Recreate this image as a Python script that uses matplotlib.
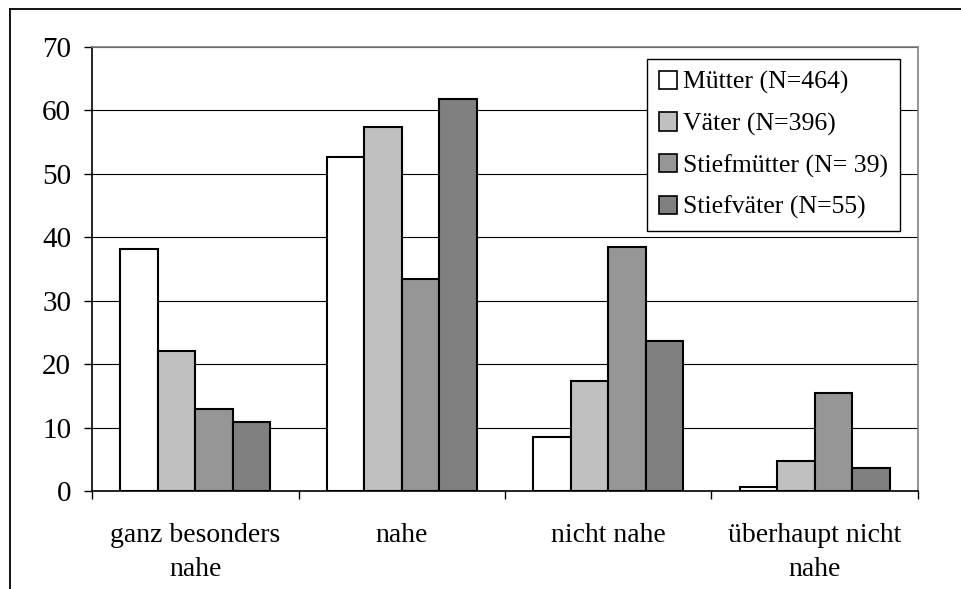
''' Grouped bar chart: Naehe zu (Stief-)Eltern. '''

import numpy as np
import matplotlib
matplotlib.use('Agg')
import matplotlib.pyplot as plt
from matplotlib.lines import Line2D

categories = ['ganz besonders\nnahe', 'nahe', 'nicht nahe', 'überhaupt nicht\nnahe']
series_names = ['Mütter (N=464)', 'Väter (N=396)', 'Stiefmütter (N= 39)', 'Stiefväter (N=55)']
muetter = [38.1, 52.6, 8.5, 0.6]
vaeter = [22.0, 57.4, 17.3, 4.8]
stiefmuetter = [12.9, 33.4, 38.5, 15.4]
stiefvaeter = [10.9, 61.8, 23.7, 3.7]
colors = ['#FFFFFF', '#C0C0C0', '#969696', '#808080']
yticks = [0, 10, 20, 30, 40, 50, 60, 70]


def run():

    plt.rcParams['font.family'] = ['Liberation Serif', 'DejaVu Serif']

    fig = plt.figure(figsize=(9.62, 5.89), dpi=100)
    W, H = 962.0, 589.0

    # plot area in pixels: x 92..918, y 47..491
    ax = fig.add_axes([92 / W, 1 - 491 / H, (918 - 92) / W, (491 - 47) / H])

    # outer chart frame (only top and left edges are visible in the crop)
    fig.add_artist(Line2D([10 / W, 10 / W], [0, 1 - 9 / H], transform=fig.transFigure,
                          color='black', lw=1.3))
    fig.add_artist(Line2D([10 / W, 1], [1 - 9 / H, 1 - 9 / H], transform=fig.transFigure,
                          color='black', lw=1.3))

    data = [muetter, vaeter, stiefmuetter, stiefvaeter]
    x = np.arange(len(categories))
    w = 1 / 5.5  # Excel gap width 150%
    for i, (vals, c, name) in enumerate(zip(data, colors, series_names)):
        ax.bar(x + (i - 1.5) * w, vals, w, color=c, edgecolor='black', linewidth=1.5,
               label=name, zorder=3)

    ax.set_xlim(-0.5, len(categories) - 0.5)
    ax.set_ylim(0, 70)
    ax.set_yticks(yticks)
    ax.set_yticklabels([str(v) for v in yticks], fontsize=21)
    ax.yaxis.grid(True, color='black', linewidth=0.8, zorder=0)
    ax.set_axisbelow(True)

    # category labels centred, tick marks between categories
    ax.set_xticks(x)
    ax.set_xticklabels(categories, fontsize=20, linespacing=1.5)
    ax.tick_params(axis='x', length=0, pad=23)
    ax.set_xticks(np.arange(-0.5, len(categories), 1.0), minor=True)
    ax.tick_params(axis='x', which='minor', length=6, width=1, color='black')
    ax.tick_params(axis='y', length=6, width=1, pad=9)

    for s in ['left', 'bottom']:
        ax.spines[s].set_color('black')
        ax.spines[s].set_linewidth(1.2)
    for s in ['top', 'right']:
        ax.spines[s].set_color('#808080')
        ax.spines[s].set_linewidth(1.2)

    leg = ax.legend(loc='upper right', bbox_to_anchor=((900 - 92) / 826, 1 - 12.3 / 444),
                    fontsize=18.5, fancybox=False, framealpha=1, edgecolor='black',
                    borderaxespad=0, handlelength=0.72, handleheight=0.72,
                    handletextpad=0.25, labelspacing=0.7, borderpad=0.45)
    leg.get_frame().set_linewidth(1.0)
    for h in leg.legend_handles:
        h.set_linewidth(1.2)

    fig.savefig('out.png', dpi=100)


if __name__ == "__main__":
    run()
